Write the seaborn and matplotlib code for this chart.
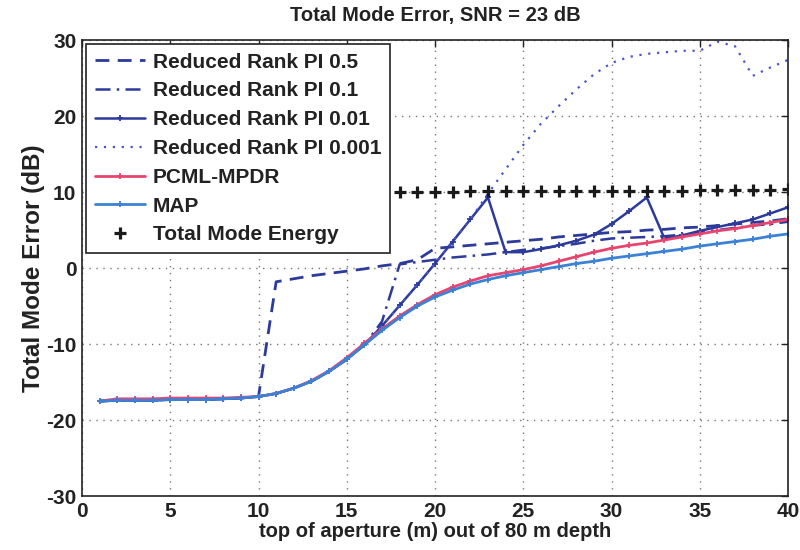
import numpy as np
import pandas as pd
import matplotlib
matplotlib.use("Agg")
import matplotlib.pyplot as plt
import seaborn as sns

# ---- data ----
aperture_top = list(range(1, 41))

map_err = [-17.5, -17.4, -17.4, -17.4, -17.3, -17.3, -17.3, -17.2, -17.1, -16.9,
           -16.5, -15.8, -14.9, -13.6, -12.0, -10.1, -8.2, -6.5, -5.0, -3.8,
           -2.9, -2.1, -1.5, -1.0, -0.6, -0.2, 0.2, 0.6, 0.9, 1.3,
           1.6, 1.9, 2.2, 2.5, 2.9, 3.2, 3.5, 3.8, 4.2, 4.5]

pcml_mpdr = [-17.5, -17.2, -17.2, -17.2, -17.1, -17.1, -17.1, -17.1, -17.0, -16.9,
             -16.5, -15.8, -14.8, -13.5, -11.8, -9.9, -8.0, -6.3, -4.8, -3.5,
             -2.5, -1.7, -1.0, -0.6, -0.2, 0.3, 0.9, 1.5, 2.1, 2.6,
             3.0, 3.3, 3.7, 4.1, 4.5, 4.9, 5.2, 5.6, 6.0, 6.4]

rr_pi_05 = [-17.5, -17.4, -17.4, -17.4, -17.3, -17.3, -17.3, -17.2, -17.1, -16.9,
            -1.8, -1.4, -1.0, -0.7, -0.4, -0.1, 0.3, 0.6, 1.1, 2.6,
            2.8, 3.0, 3.2, 3.4, 3.6, 3.8, 4.1, 4.3, 4.5, 4.7,
            4.8, 5.0, 5.1, 5.3, 5.4, 5.6, 5.8, 6.0, 6.2, 6.5]

rr_pi_01 = [-17.5, -17.4, -17.4, -17.4, -17.3, -17.3, -17.3, -17.2, -17.1, -16.9,
            -16.5, -15.8, -14.9, -13.6, -12.0, -10.1, -7.0, 0.5, 0.8, 1.1,
            1.4, 1.6, 1.8, 2.1, 2.4, 2.6, 2.9, 3.2, 3.6, 3.9,
            4.0, 4.1, 4.2, 4.4, 4.7, 5.0, 5.3, 5.6, 5.8, 6.1]

rr_pi_001 = [-17.5, -17.4, -17.4, -17.4, -17.3, -17.3, -17.3, -17.2, -17.1, -16.9,
             -16.5, -15.8, -14.9, -13.6, -12.0, -10.1, -7.6, -4.9, -2.2, 0.6,
             3.5, 6.4, 9.3, 2.1, 2.1, 2.5, 3.0, 3.6, 4.4, 5.8,
             7.5, 9.3, 3.9, 4.3, 4.9, 5.4, 5.9, 6.4, 7.2, 8.0]

rr_pi_0001 = [-17.5, -17.4, -17.4, -17.4, -17.3, -17.3, -17.3, -17.2, -17.1, -16.9,
              -16.5, -15.8, -14.9, -13.6, -12.0, -10.1, -7.6, -4.9, -2.2, 0.6,
              3.5, 6.4, 9.8, 13.0, 16.2, 19.0, 21.3, 23.5, 25.5, 27.0,
              27.8, 28.2, 28.4, 28.6, 28.6, 29.8, 29.2, 25.3, 26.4, 27.4]

total_mode_energy = [9.9, 9.9, 9.9, 9.9, 9.9, 9.9, 9.9, 9.9, 9.9, 9.9,
                     9.9, 9.9, 9.9, 10.0, 10.0, 10.0, 10.0, 10.0, 10.0, 10.0,
                     10.0, 10.1, 10.1, 10.1, 10.1, 10.1, 10.1, 10.1, 10.2, 10.2,
                     10.2, 10.2, 10.2, 10.2, 10.3, 10.3, 10.3, 10.3, 10.3, 10.4]

labels = ["Reduced Rank PI 0.5", "Reduced Rank PI 0.1", "Reduced Rank PI 0.01",
          "Reduced Rank PI 0.001", "PCML-MPDR", "MAP", "Total Mode Energy"]
x_ticks = [0, 5, 10, 15, 20, 25, 30, 35, 40]
y_ticks = [-30, -20, -10, 0, 10, 20, 30]

# ---- styling ----
sns.set_theme(style="white")
plt.rcParams["font.family"] = ["Liberation Sans", "DejaVu Sans"]
plt.rcParams["font.weight"] = "bold"
plt.rcParams["axes.unicode_minus"] = False

fig = plt.figure(figsize=(8, 5.5), dpi=100)
ax = fig.add_axes([0.1025, 0.098, 0.8825, 0.829])

dark = "#2c3a9c"
mk = dict(marker="+", markersize=5, markeredgewidth=1.3)
series = [
    (rr_pi_05, labels[0], dict(color=dark, linestyle=(0, (5, 3)), linewidth=2.0)),
    (rr_pi_01, labels[1], dict(color=dark, linestyle=(0, (6, 2.5, 1, 2.5)), linewidth=1.8)),
    (rr_pi_001, labels[2], dict(color=dark, linestyle="-", linewidth=1.8,
                                markeredgecolor=dark, **mk)),
    (rr_pi_0001, labels[3], dict(color="#4a55cc", linestyle=(0, (1, 3)), linewidth=1.6)),
    (pcml_mpdr, labels[4], dict(color="#e8456e", linestyle="-", linewidth=2.0,
                                markeredgecolor="#e8456e", **mk)),
    (map_err, labels[5], dict(color="#3b82d6", linestyle="-", linewidth=2.0,
                              markeredgecolor="#3b82d6", **mk)),
]

for vals, lab, kw in series:
    df = pd.DataFrame({"x": aperture_top, "y": vals})
    sns.lineplot(data=df, x="x", y="y", ax=ax, label=lab, **kw)

df_e = pd.DataFrame({"x": aperture_top, "y": total_mode_energy})
sns.lineplot(data=df_e, x="x", y="y", ax=ax, label=labels[6], color="#1a1a1a",
             linestyle="none", marker="+", markersize=9, markeredgewidth=2.3,
             markeredgecolor="#1a1a1a")

ax.set_xlim(0, 40)
ax.set_ylim(-30, 30)
ax.set_xticks(x_ticks)
ax.set_yticks(y_ticks)
ax.tick_params(direction="in", length=5, width=1, top=True, right=True,
               labelsize=15, pad=4, colors="#222222")
for lab in ax.get_xticklabels() + ax.get_yticklabels():
    lab.set_fontweight("bold")
ax.grid(True, linestyle=(0, (1, 4)), color="#777777", linewidth=1)
for sp in ax.spines.values():
    sp.set_color("#222222")
    sp.set_linewidth(1.2)

ax.set_title("Total Mode Error, SNR = 23 dB", fontsize=14.5, fontweight="bold",
             color="#222222", pad=14)
ax.set_xlabel("top of aperture (m) out of 80 m depth", fontsize=14.5,
              fontweight="bold", color="#222222", labelpad=1)
ax.set_ylabel("Total Mode Error (dB)", fontsize=17.5,
              fontweight="bold", color="#222222", labelpad=1)

leg = ax.legend(loc="upper left", fontsize=15, frameon=True, fancybox=False,
                framealpha=1, edgecolor="#222222", borderaxespad=0.2,
                handlelength=2.4, labelspacing=0.47, borderpad=0.4,
                handletextpad=0.4)
leg.get_frame().set_linewidth(1.2)
leg.set_zorder(10)
for t in leg.get_texts():
    t.set_fontweight("bold")
    t.set_color("#222222")

fig.savefig("out.png", dpi=100)
